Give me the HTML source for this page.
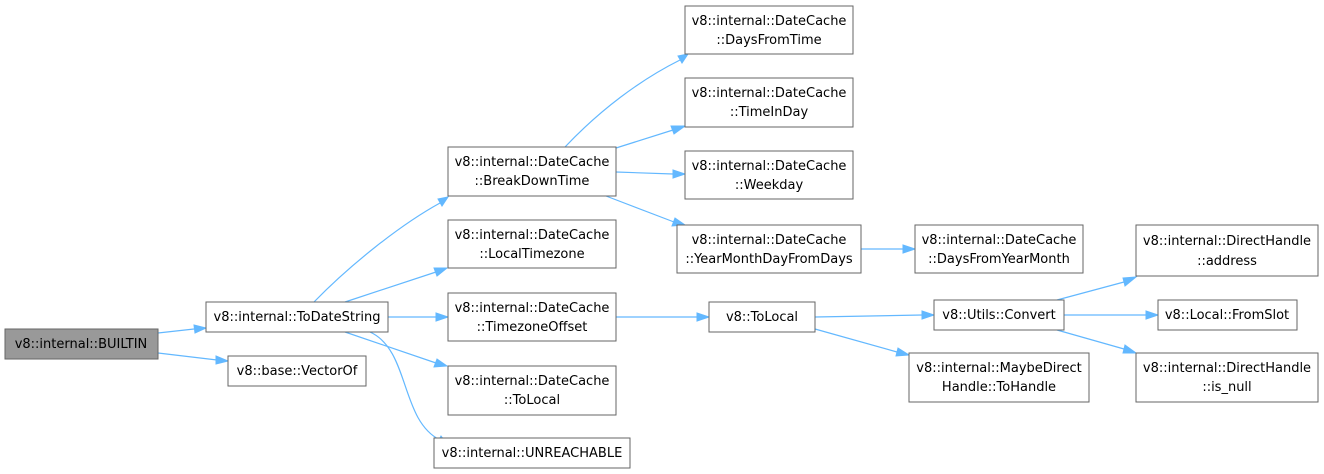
<!DOCTYPE html>
<html><head><meta charset="utf-8"><style>
html,body{margin:0;padding:0;background:#fff;width:1324px;height:474px;overflow:hidden}
text{font-family:"DejaVu Sans","Liberation Sans",sans-serif;font-size:13px;fill:#000;text-anchor:middle}
rect{fill:#fff;stroke:#666;stroke-width:1}
path{fill:none;stroke:#63b8ff;stroke-width:1.2}
polygon{fill:#63b8ff;stroke:#63b8ff}
</style></head><body>
<svg width="1324" height="474" xmlns="http://www.w3.org/2000/svg">
<path d="M158,333 L194,329"/><polygon points="194,325 206,328 195,333"/>
<path d="M158,353 L217,360"/><polygon points="216,356 228,361 216,364"/>
<path d="M314,302 C350,265 400,225 440,203"/><polygon points="438,199 448,197 442,206"/>
<path d="M345,302 L436,272"/><polygon points="434,268 447,268 437,276"/>
<path d="M388,317 L436,317"/><polygon points="436,313 448,317 436,321"/>
<path d="M345,332 L436,363"/><polygon points="437,359 447,366 434,367"/>
<path d="M370,332 C410,350 400,420 440,440"/><polygon points="441,436 448,445 437,444"/>
<path d="M565,147 C600,110 640,80 680,60"/><polygon points="678,56 688,54 682,63"/>
<path d="M616,148 L673,130"/><polygon points="671,126 685,126 674,134"/>
<path d="M616,172 L673,174"/><polygon points="673,170 685,174 673,178"/>
<path d="M606,196 L674,222"/><polygon points="675,218 685,225 672,226"/>
<path d="M861,249 L903,249"/><polygon points="903,245 915,249 903,253"/>
<path d="M616,317 L697,317"/><polygon points="697,313 709,317 697,321"/>
<path d="M815,317 L922,315"/><polygon points="922,311 934,315 922,319"/>
<path d="M815,329 L897,352"/><polygon points="898,348 909,355 896,356"/>
<path d="M1057,300 L1124,282"/><polygon points="1123,278 1136,277 1125,286"/>
<path d="M1064,315 L1146,315"/><polygon points="1146,311 1158,315 1146,319"/>
<path d="M1057,330 L1124,349"/><polygon points="1125,345 1136,353 1123,353"/>
<rect x="5" y="329" width="153" height="30" style="fill:#999"/><text x="81" y="348">v8::internal::BUILTIN</text>
<rect x="206" y="302" width="182" height="30"/><text x="297" y="321">v8::internal::ToDateString</text>
<rect x="228" y="356" width="138" height="30"/><text x="297" y="375">v8::base::VectorOf</text>
<rect x="448" y="147" width="168" height="49"/><text x="532" y="166">v8::internal::DateCache</text><text x="532" y="185">::BreakDownTime</text>
<rect x="448" y="220" width="168" height="48"/><text x="532" y="239">v8::internal::DateCache</text><text x="532" y="258">::LocalTimezone</text>
<rect x="448" y="293" width="168" height="48"/><text x="532" y="312">v8::internal::DateCache</text><text x="532" y="331">::TimezoneOffset</text>
<rect x="448" y="366" width="168" height="49"/><text x="532" y="385">v8::internal::DateCache</text><text x="532" y="404">::ToLocal</text>
<rect x="434" y="438" width="196" height="30"/><text x="532" y="457">v8::internal::UNREACHABLE</text>
<rect x="685" y="6" width="168" height="48"/><text x="769" y="25">v8::internal::DateCache</text><text x="769" y="44">::DaysFromTime</text>
<rect x="685" y="78" width="168" height="49"/><text x="769" y="97">v8::internal::DateCache</text><text x="769" y="116">::TimeInDay</text>
<rect x="685" y="151" width="168" height="48"/><text x="769" y="170">v8::internal::DateCache</text><text x="769" y="189">::Weekday</text>
<rect x="677" y="225" width="184" height="48"/><text x="769" y="244">v8::internal::DateCache</text><text x="769" y="263">::YearMonthDayFromDays</text>
<rect x="915" y="225" width="168" height="48"/><text x="999" y="244">v8::internal::DateCache</text><text x="999" y="263">::DaysFromYearMonth</text>
<rect x="709" y="302" width="106" height="30"/><text x="762" y="321">v8::ToLocal</text>
<rect x="934" y="300" width="130" height="30"/><text x="999" y="319">v8::Utils::Convert</text>
<rect x="909" y="353" width="180" height="49"/><text x="999" y="372">v8::internal::MaybeDirect</text><text x="999" y="391">Handle::ToHandle</text>
<rect x="1136" y="225" width="182" height="51"/><text x="1227" y="245">v8::internal::DirectHandle</text><text x="1227" y="265">::address</text>
<rect x="1158" y="300" width="139" height="30"/><text x="1227" y="319">v8::Local::FromSlot</text>
<rect x="1136" y="353" width="182" height="49"/><text x="1227" y="372">v8::internal::DirectHandle</text><text x="1227" y="391">::is_null</text>
</svg>
</body></html>
